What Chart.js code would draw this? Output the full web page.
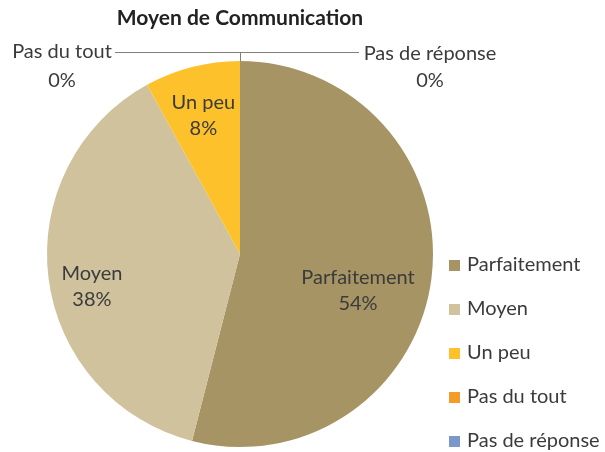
<!DOCTYPE html>
<html>
<head>
<meta charset="utf-8">
<script src="https://cdn.jsdelivr.net/npm/chart.js@4/dist/chart.umd.min.js"></script>
<style>
  html, body { margin: 0; padding: 0; background: #fff; }
  #wrap { width: 605px; height: 452px; }
</style>
</head>
<body>
<div id="wrap"><canvas id="pie"></canvas></div>
<script>
// Données
const categories = ['Parfaitement', 'Moyen', 'Un peu', 'Pas du tout', 'Pas de réponse'];
const values = [54, 38, 8, 0, 0];
const colors = ['#A69464', '#CFC29D', '#FDC12B', '#F39C2A', '#7C97C9'];

const FONT = "Lato, 'Open Sans', sans-serif";
const TXT = '#3b3b3b';

// petits décalages des étiquettes internes (style Excel)
const nudge = [[-16, 20], [-14, 16], [-3, -8]];

const labelsPlugin = {
  id: 'pieLabels',
  afterDatasetsDraw(chart) {
    const ctx = chart.ctx;
    const arcs = chart.getDatasetMeta(0).data;
    ctx.save();
    ctx.font = '20px ' + FONT;
    ctx.fillStyle = TXT;
    ctx.textAlign = 'center';
    ctx.textBaseline = 'middle';
    const lh = 26;
    arcs.forEach((arc, i) => {
      if (values[i] <= 0) return;
      const { x, y, startAngle, endAngle, outerRadius } = arc.getProps(['x', 'y', 'startAngle', 'endAngle', 'outerRadius'], true);
      const mid = (startAngle + endAngle) / 2;
      const r = outerRadius * 0.7;
      const px = x + Math.cos(mid) * r + nudge[i][0];
      const py = y + Math.sin(mid) * r + nudge[i][1];
      ctx.fillText(categories[i], px, py - lh / 2);
      ctx.fillText(values[i] + '%', px, py + lh / 2);
    });

    // étiquettes des tranches à 0 % avec ligne de rappel
    const zero = arcs.map((a, i) => i).filter((i) => values[i] === 0);
    if (zero.length) {
      const a = arcs[zero[0]].getProps(['x', 'y', 'startAngle', 'outerRadius'], true);
      const ex = a.x + Math.cos(a.startAngle) * a.outerRadius;
      const ey = a.y + Math.sin(a.startAngle) * a.outerRadius;
      const ly = ey - 9;
      ctx.strokeStyle = '#7f7f7f';
      ctx.lineWidth = 1;
      ctx.beginPath();
      ctx.moveTo(ex + 0.5, ey);
      ctx.lineTo(ex + 0.5, ly + 0.5);
      ctx.moveTo(115, ly + 0.5);
      ctx.lineTo(359, ly + 0.5);
      ctx.stroke();
      ctx.textAlign = 'center';
      ctx.fillText(categories[3], 62, ly);
      ctx.fillText(values[3] + '%', 62, ly + 29);
      ctx.fillText(categories[4], 430, ly + 2);
      ctx.fillText(values[4] + '%', 430, ly + 29);
    }

    // titre
    ctx.font = 'bold 21px ' + FONT;
    ctx.fillStyle = '#222';
    ctx.fillText('Moyen de Communication', x0(chart), 18);

    // légende
    ctx.font = '20px ' + FONT;
    ctx.textAlign = 'left';
    categories.forEach((c, i) => {
      const yy = 265 + i * 44;
      ctx.fillStyle = colors[i];
      ctx.fillRect(449, yy - 5, 11, 11);
      ctx.fillStyle = TXT;
      ctx.fillText(c, 467, yy);
    });
    ctx.restore();
  }
};

function x0(chart) {
  const a = chart.chartArea;
  return (a.left + a.right) / 2;
}

new Chart(document.getElementById('pie'), {
  type: 'pie',
  data: {
    labels: categories,
    datasets: [{ data: values, backgroundColor: colors, borderWidth: 0 }]
  },
  options: {
    responsive: true,
    maintainAspectRatio: false,
    animation: false,
    layout: { padding: { left: 47, right: 172, top: 61, bottom: 5 } },
    plugins: {
      legend: { display: false },
      tooltip: { enabled: false },
      title: { display: false }
    }
  },
  plugins: [labelsPlugin]
});
</script>
</body>
</html>
